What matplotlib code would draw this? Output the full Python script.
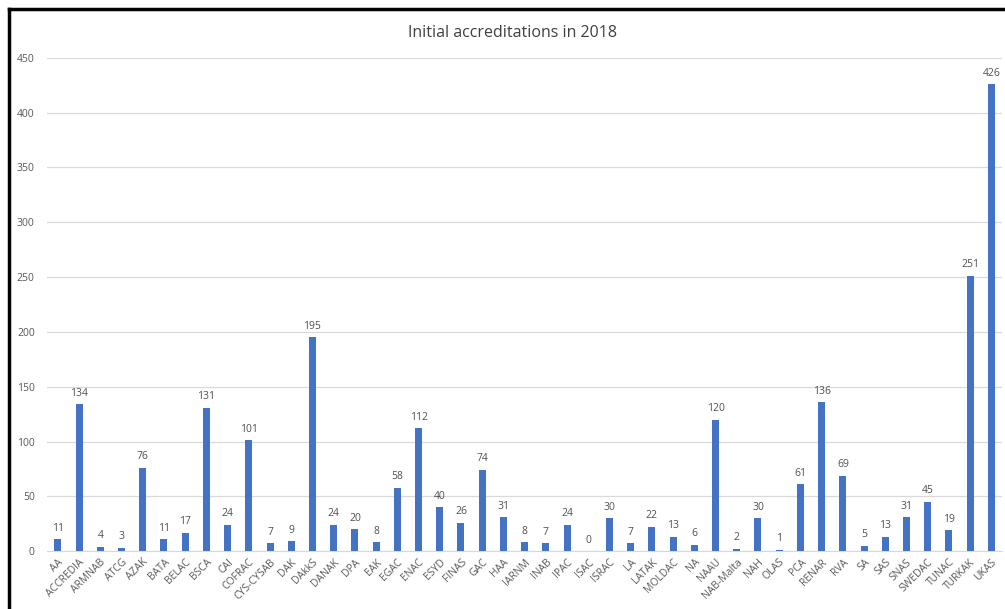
import matplotlib
matplotlib.use("Agg")
import matplotlib.pyplot as plt
from matplotlib.lines import Line2D
import numpy as np

bodies = ['AA', 'ACCREDIA', 'ARMNAB', 'ATCG', 'AZAK', 'BATA', 'BELAC', 'BSCA',
          'CAI', 'COFRAC', 'CYS-CYSAB', 'DAK', 'DAkkS', 'DANAK', 'DPA', 'EAK',
          'EGAC', 'ENAC', 'ESYD', 'FINAS', 'GAC', 'HAA', 'IARNM', 'INAB', 'IPAC',
          'ISAC', 'ISRAC', 'LA', 'LATAK', 'MOLDAC', 'NA', 'NAAU', 'NAB-Malta',
          'NAH', 'OLAS', 'PCA', 'RENAR', 'RVA', 'SA', 'SAS', 'SNAS', 'SWEDAC',
          'TUNAC', 'TURKAK', 'UKAS']
accreditations = [11, 134, 4, 3, 76, 11, 17, 131, 24, 101, 7, 9, 195, 24, 20, 8,
                  58, 112, 40, 26, 74, 31, 8, 7, 24, 0, 30, 7, 22, 13, 6, 120, 2,
                  30, 1, 61, 136, 69, 5, 13, 31, 45, 19, 251, 426]
yticks = [0, 50, 100, 150, 200, 250, 300, 350, 400, 450]

plt.rcParams['font.family'] = ['Open Sans', 'DejaVu Sans']

fig = plt.figure(figsize=(10.05, 6.09), dpi=100)
ax = fig.add_axes([0.047, 0.095, 0.95, 0.81])

x = np.arange(len(bodies))
bars = ax.bar(x, accreditations, width=0.33, color='#4472C4', zorder=3)
for xi, v in zip(x, accreditations):
    ax.annotate(str(v), (xi, v), xytext=(0, 4), textcoords='offset points',
                ha='center', va='bottom', fontsize=7.5, color='#505050')

ax.set_xlim(-0.5, len(bodies) - 0.5)
ax.set_ylim(0, 450)
ax.set_yticks(yticks)
ax.yaxis.grid(True, color='#d9d9d9', linewidth=0.9, zorder=0)
ax.set_xticks(x)
ax.set_xticklabels(bodies, rotation=45, ha='right', rotation_mode='anchor',
                   fontsize=7.5, color='#595959')
ax.tick_params(axis='y', labelsize=7.5, labelcolor='#595959', length=0, pad=9)
ax.tick_params(axis='x', length=0, pad=4)
for s in ['top', 'right', 'left']:
    ax.spines[s].set_visible(False)
ax.spines['bottom'].set_color('#d9d9d9')

fig.text(0.51, 0.946, 'Initial accreditations in 2018', ha='center', va='center',
         fontsize=11.5, color='#404040')

# black frame on top and left of the screenshot
fig.add_artist(Line2D([0.009, 1.0], [0.985, 0.985], color='black', linewidth=2.5,
                      transform=fig.transFigure))
fig.add_artist(Line2D([0.009, 0.009], [0.0, 0.985], color='black', linewidth=2.5,
                      transform=fig.transFigure))

fig.savefig('out.png', dpi=100)
